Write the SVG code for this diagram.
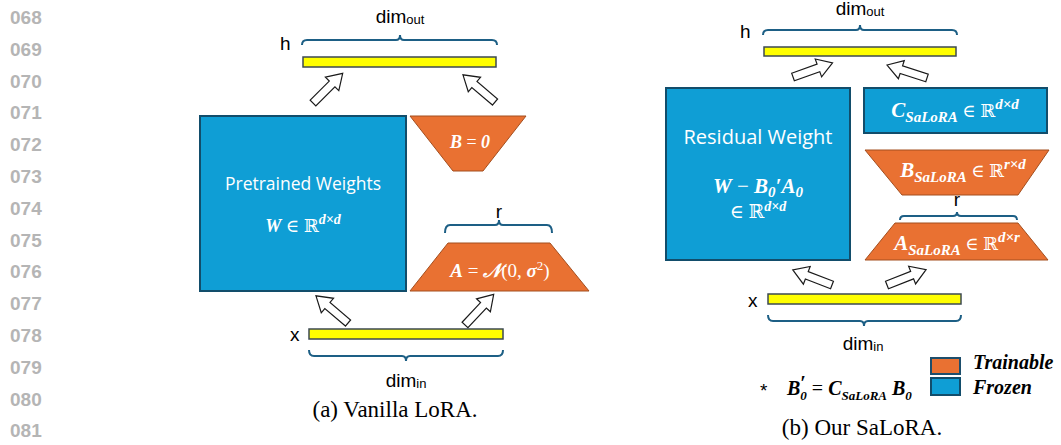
<svg xmlns="http://www.w3.org/2000/svg" xmlns:xlink="http://www.w3.org/1999/xlink" width="1061" height="445" viewBox="0 0 1061 445">
<style>
.ln{font-family:"Liberation Sans",Arial,sans-serif;font-size:19px;font-weight:bold;fill:#b5b5b5}
.lab{font-family:"Liberation Sans",Arial,sans-serif;font-size:19px;fill:#000}
.sub{font-size:13px}
.frozen{fill:#0f9ed5;stroke:#124d6b;stroke-width:2}
.train{fill:#e97132;stroke:#a34e1e;stroke-width:1}
.bar{fill:#ffff00;stroke:#3d4a52;stroke-width:1.5}
.brace{fill:none;stroke:#1d5f85;stroke-width:2}
.arr{fill:#fff;stroke:#1a1a1a;stroke-width:1.2;stroke-linejoin:miter}
.ttl{font-family:"Open Sans","Noto Sans",sans-serif;font-weight:500;fill:#fff;text-anchor:middle}
.m{font-family:"Liberation Serif","DejaVu Serif",serif;font-weight:bold;font-style:italic;fill:#fff;text-anchor:middle}
.up{font-style:normal;font-weight:normal}
.cap{font-family:"Liberation Serif","Times New Roman",serif;font-size:23px;fill:#000;text-anchor:middle}
.leg{font-family:"Liberation Serif","DejaVu Serif",serif;font-weight:bold;font-style:italic;font-size:20px;fill:#000}
</style>
<defs>
<path id="blk" d="M0,-4 H27 V-9.5 L42,0 L27,9.5 V4 H0 Z"/>
</defs>
<rect width="1061" height="445" fill="#fff"/>
<g id="line-numbers">
<text class="ln" x="10" y="24">068</text>
<text class="ln" x="10" y="55.8">069</text>
<text class="ln" x="10" y="87.6">070</text>
<text class="ln" x="10" y="119.4">071</text>
<text class="ln" x="10" y="151.2">072</text>
<text class="ln" x="10" y="183">073</text>
<text class="ln" x="10" y="214.8">074</text>
<text class="ln" x="10" y="246.6">075</text>
<text class="ln" x="10" y="278.4">076</text>
<text class="ln" x="10" y="310.2">077</text>
<text class="ln" x="10" y="342">078</text>
<text class="ln" x="10" y="373.8">079</text>
<text class="ln" x="10" y="405.6">080</text>
<text class="ln" x="10" y="437.4">081</text>
</g>

<!-- ===== (a) Vanilla LoRA ===== -->
<g id="a-h">
<rect class="bar" x="303" y="57" width="193" height="10"/>
<text class="lab" x="280" y="50">h</text>
<text class="lab" x="400" y="23" text-anchor="middle">dim<tspan class="sub" dy="1">out</tspan></text>
</g>
<g id="a-W">
<rect class="frozen" x="200" y="116" width="206" height="175"/>
<text class="ttl" x="303" y="190" font-size="17.5">Pretrained Weights</text>
<text class="m" x="303" y="232" font-size="18">W<tspan class="up"> ∈ ℝ</tspan><tspan dy="-8" font-size="14">d×d</tspan></text>
</g>
<g id="a-B">
<polygon class="train" points="410,116 526,116 483,171 453,171"/>
<text class="m" x="470" y="148" font-size="18">B<tspan class="up"> = </tspan>0</text>
</g>
<g id="a-A">
<polygon class="train" points="448,243 550,243 589,291 410,291"/>
<text class="m" x="500" y="277" font-size="19">A<tspan class="up"> = </tspan>𝒩<tspan class="up">(0, </tspan>σ<tspan class="up" dy="-7" font-size="13">2</tspan><tspan class="up" dy="7">)</tspan></text>
<text class="lab" x="499" y="218" text-anchor="middle">r</text>
</g>
<g id="a-x">
<rect class="bar" x="309" y="329" width="194" height="10"/>
<text class="lab" x="290" y="341">x</text>
<text class="lab" x="406" y="387" text-anchor="middle">dim<tspan class="sub" dy="1">in</tspan></text>
</g>
<text class="cap" x="395" y="417">(a) Vanilla LoRA.</text>

<!-- ===== (b) SaLoRA ===== -->
<g id="b-h">
<rect class="bar" x="764" y="47" width="192" height="9"/>
<text class="lab" x="740" y="38">h</text>
<text class="lab" x="860" y="15" text-anchor="middle">dim<tspan class="sub" dy="1">out</tspan></text>
</g>
<g id="b-W">
<rect class="frozen" x="666" y="88" width="184" height="172"/>
<text class="ttl" x="758" y="144" font-size="20">Residual Weight</text>
<text class="m" x="758" y="193" font-size="21">W<tspan class="up"> − </tspan>B<tspan dy="4" font-size="15">0</tspan><tspan dy="-4">′A</tspan><tspan dy="4" font-size="15">0</tspan></text>
<text class="m" x="758" y="218" font-size="19"><tspan class="up">∈ ℝ</tspan><tspan dy="-7" font-size="14">d×d</tspan></text>
</g>
<g id="b-C">
<rect class="frozen" x="864" y="88" width="183" height="45"/>
<text class="m" x="955" y="117" font-size="21">C<tspan dy="5" font-size="15">SaLoRA</tspan><tspan class="up" dy="-5" font-size="18"> ∈ ℝ</tspan><tspan dy="-8" font-size="15">d×d</tspan></text>
</g>
<g id="b-B">
<polygon class="train" points="865,150 1049,150 1018,195 902,195"/>
<text class="m" x="963" y="177" font-size="21">B<tspan dy="5" font-size="15">SaLoRA</tspan><tspan class="up" dy="-5" font-size="18"> ∈ ℝ</tspan><tspan dy="-8" font-size="15">r×d</tspan></text>
</g>
<g id="b-A">
<polygon class="train" points="895,223 1018,223 1048,260 865,260"/>
<text class="m" x="957" y="250" font-size="21">A<tspan dy="5" font-size="15">SaLoRA</tspan><tspan class="up" dy="-5" font-size="18"> ∈ ℝ</tspan><tspan dy="-8" font-size="15">d×r</tspan></text>
<text class="lab" x="957" y="206" text-anchor="middle">r</text>
</g>
<g id="b-x">
<rect class="bar" x="768" y="294" width="193" height="10"/>
<text class="lab" x="748" y="307">x</text>
<text class="lab" x="863" y="350" text-anchor="middle">dim<tspan class="sub" dy="1">in</tspan></text>
</g>
<g id="legend">
<rect class="train" x="931" y="358" width="29" height="16" style="stroke:#1d4e6c;stroke-width:2"/>
<rect class="frozen" x="931" y="378" width="29" height="17"/>
<text class="leg" x="973" y="369" font-size="21">Trainable</text>
<text class="leg" x="973" y="394" font-size="21">Frozen</text>
</g>
<g id="note">
<text class="lab" x="760" y="397" font-size="17">*</text>
<text class="leg" x="787" y="395" font-size="19">B<tspan dy="5" font-size="13">0</tspan><tspan dy="-5" font-style="normal" font-weight="normal"> = </tspan>C<tspan dy="5" font-size="13">SaLoRA</tspan><tspan dy="-5"> B</tspan><tspan dy="5" font-size="13">0</tspan></text>
<text class="leg" x="800" y="390" font-size="13" font-style="normal">′</text>
</g>
<text class="cap" x="862" y="435">(b) Our SaLoRA.</text>

<g id="connectors">
<path class="brace" d="M302,45 Q302,40 307,40 H396 Q400,40 400,35 Q400,40 404,40 H492 Q497,40 497,45"/>
<path class="brace" d="M445,233 Q445,225 450,225 H495 Q499,225 499,220 Q499,225 503,225 H547 Q552,225 552,233"/>
<path class="brace" d="M309,350 Q309,356 314,356 H402 Q406,356 406,361 Q406,356 410,356 H498 Q503,356 503,350"/>
<path class="brace" d="M763,35 Q763,30 768,30 H856 Q860,30 860,25 Q860,30 864,30 H952 Q957,30 957,35"/>
<path class="brace" d="M900,220 Q900,216 904,216 H953 Q957,216 957,212 Q957,216 961,216 H1013 Q1017,216 1017,220"/>
<path class="brace" d="M768,315 Q768,321 773,321 H860 Q864,321 864,326 Q864,321 868,321 H956 Q961,321 961,315"/>
<use class="arr" xlink:href="#blk" transform="translate(313,103) rotate(-45)"/>
<use class="arr" xlink:href="#blk" transform="translate(495,102) rotate(-139.7)"/>
<use class="arr" xlink:href="#blk" transform="translate(348,323) rotate(-139.7)"/>
<use class="arr" xlink:href="#blk" transform="translate(465,325) rotate(-46.9)"/>
<use class="arr" xlink:href="#blk" transform="translate(793,77) rotate(-19.7)"/>
<use class="arr" xlink:href="#blk" transform="translate(927,78) rotate(-162)"/>
<use class="arr" xlink:href="#blk" transform="translate(832,285) rotate(-159)"/>
<use class="arr" xlink:href="#blk" transform="translate(887,285) rotate(-21.5)"/>
</g>
</svg>
